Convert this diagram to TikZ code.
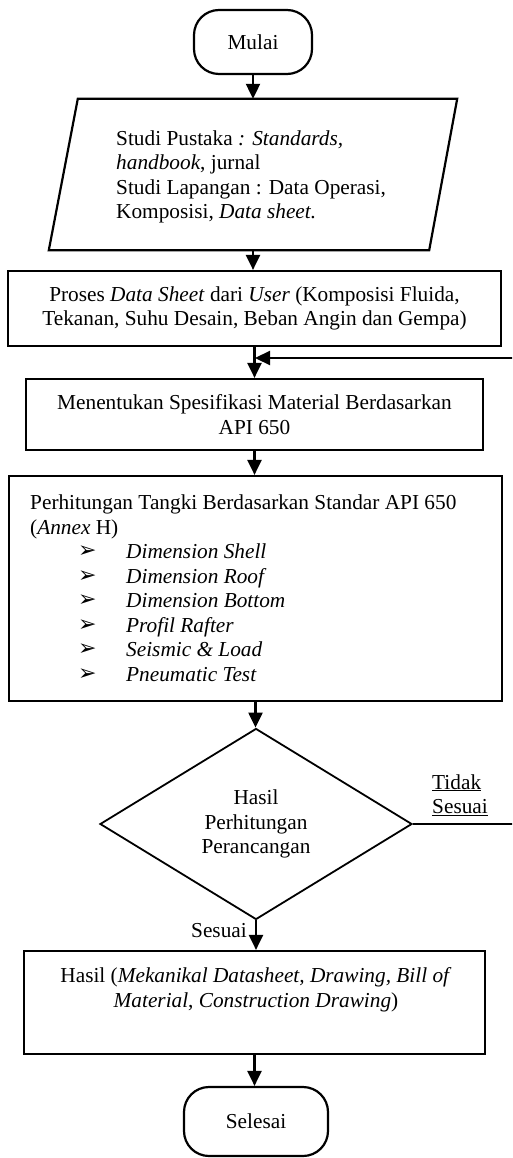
\documentclass[tikz,border=0pt]{standalone}
\usepackage{fontspec}
\setmainfont{Liberation Serif}
\newfontfamily\djv{DejaVu Sans}
\usetikzlibrary{shapes.geometric,arrows.meta}
\newcommand{\blt}[1]{\hspace*{48pt}\makebox[48pt][l]{\raisebox{1pt}{\djv\fontsize{22}{24.5}\selectfont ➢}}\textit{#1}}
\begin{document}
\begin{tikzpicture}[x=1pt,y=-1pt,
  every node/.style={font=\fontsize{21.3}{24.5}\selectfont, inner sep=0pt},
  ln/.style={line width=2.2pt},
  arr/.style={ln, -{Triangle[length=15pt,width=14pt]}},
  boxnode/.style={draw, ln, rectangle},
  term/.style={draw, ln, rectangle, rounded corners=25pt},
  decision/.style={draw, line width=1.8pt, diamond}]
\useasboundingbox (0,0) rectangle (512,1158);
\fill[white] (0,0) rectangle (512,1158);
\clip (0,0) rectangle (512,1158);

\node[term, minimum width=118pt, minimum height=64pt] (mulai) at (253,42) {Mulai};

\node[minimum width=408pt, minimum height=151pt] (pustaka) at (253,174.5) {};
\draw[ln] (pustaka.south west) -- ([xshift=-28pt]pustaka.south east) -- (pustaka.north east) -- ([xshift=29pt]pustaka.north west) -- cycle;
\node[anchor=west, align=left] (pustakatxt) at (116,177) {Studi Pustaka \textit{: Standards,}\\ \textit{handbook}, jurnal\\ Studi Lapangan : Data Operasi,\\ Komposisi, \textit{Data sheet.}};

\node[boxnode, minimum width=493pt, minimum height=75pt, align=center] (proses) at (254.5,308.5) {Proses \textit{Data Sheet} dari \textit{User} (Komposisi Fluida,\\ Tekanan, Suhu Desain, Beban Angin dan Gempa)};

\node[boxnode, minimum width=457pt, minimum height=71pt, align=center] (spek) at (254.5,414.5) {Menentukan Spesifikasi Material Berdasarkan\\ API 650};

\node[boxnode, minimum width=493pt, minimum height=225pt] (hitung) at (255.5,588.5) {};
\node[anchor=west, align=left] (hitungtxt) at (30,588) {Perhitungan Tangki Berdasarkan Standar API 650\\ (\textit{Annex} H)\\ \blt{Dimension Shell}\\ \blt{Dimension Roof}\\ \blt{Dimension Bottom}\\ \blt{Profil Rafter}\\ \blt{Seismic \& Load}\\ \blt{Pneumatic Test}};

\node[decision, minimum width=312pt, minimum height=191pt, align=center] (cek) at (256,824) {Hasil\\ Perhitungan\\ Perancangan};

\node[boxnode, minimum width=461pt, minimum height=103pt] (hasil) at (254.5,1002.5) {};
\node[align=center] (hasiltxt) at (256,990) {Hasil (\textit{Mekanikal Datasheet, Drawing, Bill of}\\ \textit{Material}, \textit{Construction Drawing})};

\node[term, minimum width=144pt, minimum height=69pt] (selesai) at (256,1121.5) {Selesai};

\coordinate (merge) at (255,358);
\coordinate (loopr) at (540,824);

\draw[arr] (mulai.south) -- (mulai.south |- pustaka.north);
\draw[arr] (pustaka.south) -- (pustaka.south |- proses.north);
\draw[arr] (proses.south) -- (proses.south |- spek.north);
\draw[arr] (cek.east) -- (loopr) |- (merge);
\draw[arr] (spek.south) -- (spek.south |- hitung.north);
\draw[arr] (hitung.south) -- (hitung.south |- cek.north);
\draw[arr] (cek.south) -- (cek.south |- hasil.north);
\draw[arr] (hasil.south) -- (hasil.south |- selesai.north);

\node[anchor=west, align=left] (tidak) at (432,795) {\underline{Tidak}\\ \underline{Sesuai}};
\node[anchor=east] (sesuai) at (247,931) {Sesuai};
\end{tikzpicture}
\end{document}
